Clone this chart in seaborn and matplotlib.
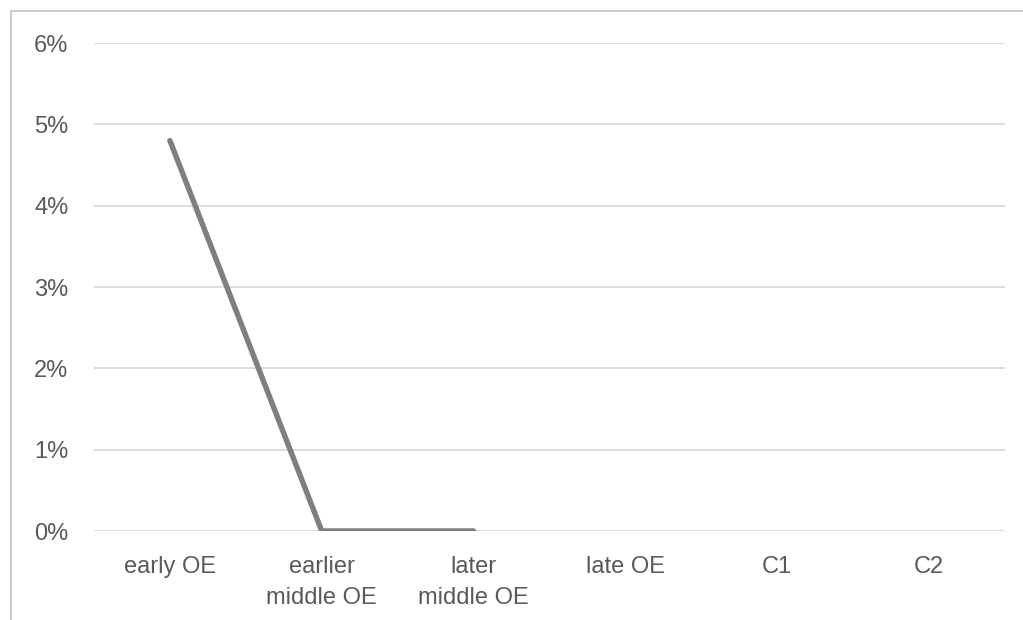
import matplotlib
matplotlib.use("Agg")
import matplotlib.pyplot as plt
from matplotlib.lines import Line2D
from matplotlib.ticker import FuncFormatter, MultipleLocator
import numpy as np
import pandas as pd
import seaborn as sns

# Share of forms per period (NaN = no data for that period)
periods = ["early OE", "earlier\nmiddle OE", "later\nmiddle OE", "late OE", "C1", "C2"]
share = [0.048, 0.0, 0.0, np.nan, np.nan, np.nan]

df = pd.DataFrame({"pos": range(len(periods)), "share": share}).dropna()

sns.set_theme(style="white")
plt.rcParams["font.family"] = ["Liberation Sans", "DejaVu Sans"]

W, H = 1023, 620
fig = plt.figure(figsize=(W / 100, H / 100), dpi=100)
ax = fig.add_axes([94 / W, 1 - 531 / H, (1005 - 94) / W, (531 - 43) / H])

ax.yaxis.set_major_locator(MultipleLocator(0.01))
ax.set_ylim(0, 0.06)
ax.set_xlim(-0.5, len(periods) - 0.5)
ax.grid(axis="y", color="#d9d9d9", linewidth=1.3)
ax.set_axisbelow(True)

sns.lineplot(data=df, x="pos", y="share", ax=ax, color="#7f7f7f",
             linewidth=3.9, solid_capstyle="round", solid_joinstyle="round")

ax.set_xticks(range(len(periods)))
ax.set_xticklabels(periods, linespacing=1.5)
ax.yaxis.set_major_formatter(FuncFormatter(lambda v, _: f"{v * 100:.0f}%"))
ax.tick_params(axis="both", length=0, labelsize=17, labelcolor="#595959")
ax.tick_params(axis="x", pad=18)
ax.tick_params(axis="y", pad=18.5)
ax.set_xlabel("")
ax.set_ylabel("")
for s in ax.spines.values():
    s.set_visible(False)

# Outer chart frame (top and left edges)
fig.add_artist(Line2D([11 / W, 11 / W], [0, 1 - 11 / H], transform=fig.transFigure,
                      color="#c4c4c4", linewidth=1.2))
fig.add_artist(Line2D([11 / W, 1], [1 - 11 / H, 1 - 11 / H], transform=fig.transFigure,
                      color="#c4c4c4", linewidth=1.2))

fig.savefig("out.png", dpi=100, facecolor="white")
